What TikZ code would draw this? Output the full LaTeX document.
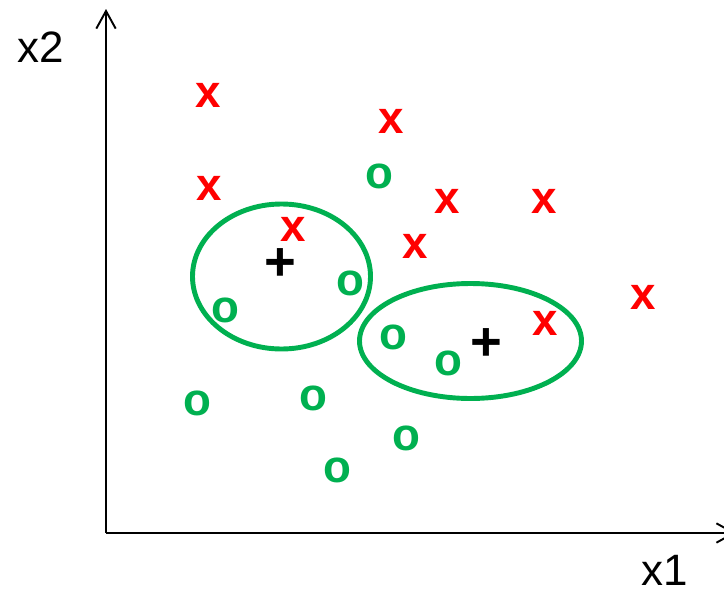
\documentclass[tikz,border=0pt]{standalone}
\usepackage{fontspec}
\setmainfont{Liberation Sans}
\usetikzlibrary{arrows.meta}
\definecolor{ptred}{RGB}{255,0,0}
\definecolor{ptgreen}{RGB}{0,176,80}
\tikzset{
  axis/.style={line width=1.1pt,-{Straight Barb[length=10pt,width=11pt,line width=1.1pt]}},
  redx/.style={inner sep=0pt,text=ptred,font=\fontsize{26}{26}\selectfont\bfseries},
  greeno/.style={inner sep=0pt,text=ptgreen,font=\fontsize{26}{26}\selectfont\bfseries},
  plusmark/.style={inner sep=0pt,text=black,font=\fontsize{31}{31}\selectfont\bfseries},
  cluster/.style={draw=ptgreen,line width=2.8pt},
  axlabel/.style={inner sep=0pt,anchor=base,font=\fontsize{25}{25}\selectfont}
}
\begin{document}
\begin{tikzpicture}[x=0.02cm,y=-0.02cm]
    \useasboundingbox (0,0) rectangle (724,592);
    % axes
    \coordinate (O) at (106,533);
    \coordinate (ytop) at (106,9);
    \coordinate (xend) at (736,533);
    \draw[axis] (O) -- (ytop);
    \draw[axis] (O) -- (xend);
    \node[axlabel] (lx2) at (41,62) {x2};
    \node[axlabel] (lx1) at (665,585) {x1};
    % cluster outlines
    \draw[cluster] (281.5,276.5) ellipse (89 and 72.5);
    \draw[cluster] (470.5,341) ellipse (111 and 57.5);
    % class x
    \foreach \p [count=\i] in {(208,95),(391,121),(209,188),(293,229),(447,201),
        (544,201),(415,246),(643,297),(545,323)}
        \node[redx] (x\i) at \p {x};
    % class o
    \foreach \p [count=\i] in {(379,176),(350,283),(225,310),(393,337),(448,363),
        (197,403),(313,398),(406,438),(337,470)}
        \node[greeno] (o\i) at \p {o};
    % centres
    \node[plusmark] (c1) at (280,265) {+};
    \node[plusmark] (c2) at (486,345) {+};
\end{tikzpicture}
\end{document}
